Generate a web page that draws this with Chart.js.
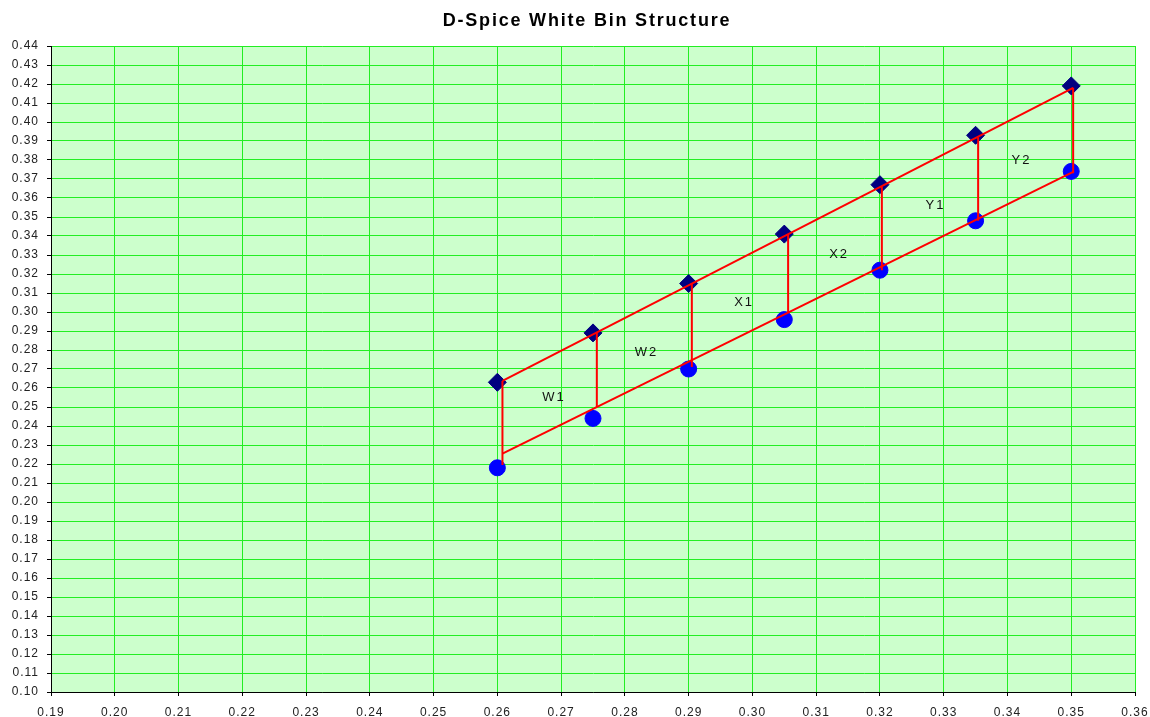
<!DOCTYPE html>
<html>
<head>
<meta charset="utf-8">
<script src="https://cdn.jsdelivr.net/npm/chart.js@4.4.1/dist/chart.umd.min.js"></script>
<style>
  html, body { margin: 0; padding: 0; background: #ffffff; }
  #wrap { width: 1150px; height: 717px; }
</style>
</head>
<body>
<div id="wrap"><canvas id="binChart" width="1150" height="717"></canvas></div>
<script>
// bin corner points
const binX = [0.26, 0.275, 0.29, 0.305, 0.32, 0.335, 0.35];
const upperY = [0.263, 0.289, 0.315, 0.341, 0.367, 0.393, 0.419];
const lowerY = [0.218, 0.244, 0.270, 0.296, 0.322, 0.348, 0.374];

// red bin edges
const edgeX = [0.2608, 0.2756, 0.2905, 0.3056, 0.3203, 0.3354, 0.3503];
const edgeTop = [0.2637, 0.289, 0.315, 0.341, 0.366, 0.392, 0.418];
const edgeBottom = [0.2195, 0.250, 0.271, 0.300, 0.322, 0.348, 0.373];
const upperLineX = [0.2608, 0.3503];
const upperLineY = [0.2637, 0.418];
const lowerLineX = [0.2608, 0.3503];
const lowerLineY = [0.2255, 0.3737];

// bin names
const binNames = ['W1', 'W2', 'X1', 'X2', 'Y1', 'Y2'];
const nameX = [0.2689, 0.2834, 0.2987, 0.3136, 0.3287, 0.3422];
const nameY = [0.2553, 0.2789, 0.3053, 0.3305, 0.3563, 0.3800];

const xRange = [0.19, 0.36];
const yRange = [0.10, 0.44];
const chartTitle = 'D-Spice White Bin Structure';

const FONT = 'Arial, "Liberation Sans", sans-serif';

const toPts = (xs, ys) => xs.map((x, i) => ({ x: x, y: ys[i] }));

// one dataset for all edges, broken with nulls
const edgePts = [];
edgeX.forEach((x, i) => {
    edgePts.push({ x: x, y: edgeTop[i] });
    edgePts.push({ x: x, y: edgeBottom[i] });
    edgePts.push({ x: x, y: null });
});

const plotBg = {
    id: 'plotBg',
    beforeDraw(chart) {
        const { ctx, chartArea: a } = chart;
        ctx.save();
        ctx.fillStyle = '#ccffcc';
        ctx.fillRect(a.left, a.top, a.right - a.left, a.bottom - a.top);
        ctx.restore();
        ctx.letterSpacing = '1px';
    }
};

const textLayer = {
    id: 'textLayer',
    afterDraw(chart) {
        const { ctx, chartArea: a } = chart;
        const xs = chart.scales.x, ys = chart.scales.y;
        ctx.save();
        ctx.fillStyle = '#000000';
        ctx.font = 'bold 18px ' + FONT;
        ctx.letterSpacing = '1.8px';
        ctx.textAlign = 'center';
        ctx.textBaseline = 'middle';
        ctx.fillText(chartTitle, (a.left + a.right) / 2 - 6, 21);

        ctx.font = '13px ' + FONT;
        ctx.letterSpacing = '2px';
        ctx.fillStyle = '#111111';
        binNames.forEach((name, i) => {
            ctx.fillText(name, xs.getPixelForValue(nameX[i]), ys.getPixelForValue(nameY[i]));
        });
        ctx.restore();
    }
};

new Chart(document.getElementById('binChart'), {
    type: 'scatter',
    data: {
        datasets: [
            {
                label: 'edges',
                data: edgePts,
                showLine: true,
                spanGaps: false,
                borderColor: '#ff0000',
                borderWidth: 2,
                pointRadius: 0
            },
            {
                label: 'upper line',
                data: toPts(upperLineX, upperLineY),
                showLine: true,
                borderColor: '#ff0000',
                borderWidth: 2,
                pointRadius: 0
            },
            {
                label: 'lower line',
                data: toPts(lowerLineX, lowerLineY),
                showLine: true,
                borderColor: '#ff0000',
                borderWidth: 2,
                pointRadius: 0
            },
            {
                label: 'upper',
                data: toPts(binX, upperY),
                pointStyle: 'rectRot',
                pointRadius: 9,
                backgroundColor: '#000080',
                borderColor: '#000080',
                borderWidth: 1
            },
            {
                label: 'lower',
                data: toPts(binX, lowerY),
                pointStyle: 'circle',
                pointRadius: 8,
                backgroundColor: '#0000ff',
                borderColor: '#0000ff',
                borderWidth: 1
            }
        ]
    },
    options: {
        responsive: false,
        animation: false,
        layout: {
            padding: { top: 46, right: 15, left: 0, bottom: 0 }
        },
        plugins: {
            legend: { display: false },
            title: { display: false },
            tooltip: { enabled: false }
        },
        scales: {
            x: {
                type: 'linear',
                min: xRange[0],
                max: xRange[1],
                afterFit: (s) => {
                    s.height = 25;
                    s.paddingLeft = 0;
                    s.paddingRight = 0;
                },
                grid: {
                    color: '#22ee22',
                    lineWidth: 1,
                    tickColor: '#000000',
                    tickLength: 4
                },
                border: { color: '#000000', width: 1 },
                ticks: {
                    stepSize: 0.01,
                    maxTicksLimit: 40,
                    maxRotation: 0,
                    autoSkip: false,
                    padding: 9,
                    color: '#222222',
                    font: { family: FONT, size: 12 },
                    callback: (v) => Number(v).toFixed(2)
                }
            },
            y: {
                type: 'linear',
                min: yRange[0],
                max: yRange[1],
                afterFit: (s) => {
                    s.width = 51;
                    s.paddingTop = 0;
                    s.paddingBottom = 0;
                },
                grid: {
                    color: '#22ee22',
                    lineWidth: 1,
                    tickColor: '#000000',
                    tickLength: 4
                },
                border: { color: '#000000', width: 1 },
                ticks: {
                    stepSize: 0.01,
                    maxTicksLimit: 40,
                    autoSkip: false,
                    padding: 8,
                    color: '#222222',
                    font: { family: FONT, size: 12 },
                    callback: (v) => Number(v).toFixed(2)
                }
            }
        }
    },
    plugins: [plotBg, textLayer]
});
</script>
</body>
</html>
